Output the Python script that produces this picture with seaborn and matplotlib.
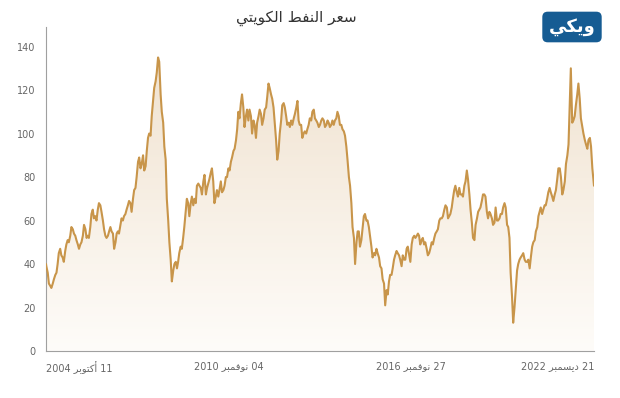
import matplotlib
matplotlib.use("Agg")
import matplotlib.pyplot as plt
import matplotlib.dates as mdates
import numpy as np
import pandas as pd
import seaborn as sns

# Kuwaiti oil price, USD per barrel (1st and 15th of each month)
start_date = "2004-10-11"
end_date = "2022-12-21"
start_price = 40
end_price = 76

p2004 = [39, 36, 31, 30, 29]
p2005 = [31, 33, 35, 36, 40, 45, 47, 44, 43, 41, 46, 49, 51, 50, 53, 57, 56, 54, 53, 51, 49, 47, 49, 50]
p2006 = [53, 58, 56, 52, 53, 52, 57, 63, 65, 61, 62, 60, 65, 68, 67, 64, 60, 56, 53, 52, 53, 55, 57, 55]
p2007 = [54, 47, 50, 54, 55, 54, 58, 61, 60, 62, 63, 65, 67, 69, 68, 64, 70, 74, 75, 80, 87, 89, 84, 86]
p2008 = [90, 83, 85, 92, 98, 100, 99, 108, 115, 121, 124, 128, 135, 133, 118, 110, 105, 94, 88, 70, 60, 50, 42, 32]
p2009 = [37, 40, 41, 38, 41, 45, 48, 47, 52, 57, 64, 70, 68, 62, 68, 71, 67, 70, 68, 76, 77, 76, 75, 72]
p2010 = [78, 81, 72, 75, 77, 79, 82, 84, 78, 68, 71, 74, 71, 74, 78, 73, 74, 76, 80, 80, 84, 83, 87, 89]
p2011 = [92, 93, 97, 102, 110, 107, 114, 118, 112, 103, 108, 111, 106, 111, 108, 100, 106, 104, 98, 105, 108, 111, 109, 104]
p2012 = [107, 111, 112, 117, 123, 121, 118, 116, 112, 105, 97, 88, 92, 100, 106, 113, 114, 112, 108, 104, 105, 103, 106, 104]
p2013 = [107, 109, 112, 115, 106, 104, 104, 98, 100, 101, 100, 102, 104, 107, 106, 110, 111, 107, 106, 105, 103, 104, 106, 107]
p2014 = [106, 103, 104, 106, 105, 103, 104, 106, 104, 106, 107, 110, 108, 104, 104, 102, 101, 99, 94, 88, 80, 76, 68, 57]
p2015 = [52, 40, 50, 55, 55, 48, 51, 56, 62, 63, 60, 60, 57, 53, 48, 43, 45, 44, 47, 45, 43, 39, 38, 33]
p2016 = [31, 21, 28, 26, 32, 35, 35, 38, 42, 44, 46, 45, 44, 42, 39, 44, 42, 42, 47, 48, 44, 41, 49, 52]
p2017 = [53, 52, 53, 54, 53, 49, 51, 52, 49, 50, 47, 44, 45, 47, 50, 49, 52, 54, 55, 56, 60, 61, 61, 62]
p2018 = [65, 67, 66, 61, 62, 63, 66, 70, 74, 76, 73, 71, 75, 72, 72, 71, 76, 78, 83, 79, 72, 65, 59, 52]
p2019 = [51, 58, 61, 64, 65, 66, 69, 72, 72, 71, 64, 61, 64, 63, 61, 58, 59, 66, 60, 60, 61, 63, 63, 66]
p2020 = [68, 66, 58, 57, 52, 36, 25, 13, 20, 28, 37, 40, 42, 43, 44, 45, 42, 41, 41, 42, 38, 43, 48, 50]
p2021 = [51, 55, 57, 62, 64, 66, 63, 65, 67, 67, 70, 73, 75, 73, 71, 69, 72, 74, 79, 84, 84, 80, 72, 74]
p2022 = [78, 86, 90, 95, 112, 130, 105, 106, 108, 113, 118, 123, 116, 107, 103, 100, 97, 95, 93, 97, 98, 94, 84, 78]

tick_dates = ["2004-10-11", "2010-11-04", "2016-11-27", "2022-12-21"]
y_ticks = [0, 20, 40, 60, 80, 100, 120, 140]

# Arabic written in presentation forms, in visual order (no shaping engine in matplotlib)
title = "\ufef2\ufe98\ufef3\ufeee\ufedc\ufedf\ufe8d \ufec2\ufed4\ufee8\ufedf\ufe8d \ufeae\ufecc\ufeb3"  # سعر النفط الكويتي
oct_ar = "\ufeae\ufe91\ufeee\ufe98\ufedb\ufe83"   # أكتوبر
nov_ar = "\ufeae\ufe92\ufee4\ufed3\ufeee\ufee7"   # نوفمبر
dec_ar = "\ufeae\ufe92\ufee4\ufeb4\ufef3\ufea9"   # ديسمبر
tick_labels = [f"2004 {oct_ar} 11", f"2010 {nov_ar} 04", f"2016 {nov_ar} 27", f"2022 {dec_ar} 21"]
logo = "\ufef2\ufedc\ufef3\ufeed"  # ويكي

yearly = [p2004, p2005, p2006, p2007, p2008, p2009, p2010, p2011, p2012, p2013,
          p2014, p2015, p2016, p2017, p2018, p2019, p2020, p2021, p2022]
prices = [start_price] + sum(yearly, []) + [end_price]
mid_dates = list(pd.date_range("2004-10-15", "2022-12-15", freq="SMS"))
dates = [pd.Timestamp(start_date)] + mid_dates + [pd.Timestamp(end_date)]
df = pd.DataFrame({"date": dates, "price": prices})

sns.set_style("white")
plt.rcParams["font.family"] = ["DejaVu Sans"]

fig = plt.figure(figsize=(6.2, 3.98), dpi=100)
ax = fig.add_axes([46 / 620, 1 - 351 / 398, 548 / 620, 324 / 398])

line_color = "#C8954A"
sns.lineplot(data=df, x="date", y="price", color=line_color, linewidth=1.5, ax=ax, zorder=3)

# vertical gradient under the line
ymax = 149
x0, x1 = mdates.date2num(df["date"].iloc[0]), mdates.date2num(df["date"].iloc[-1])
top_c = np.array([239, 224, 204]) / 255
bot_c = np.array([254, 252, 249]) / 255
t = np.linspace(0, 1, 256)[:, None]
grad = (top_c * (1 - t) + bot_c * t)[:, None, :]
im = ax.imshow(grad, extent=[x0, x1, 0, ymax], aspect="auto", origin="upper", zorder=1)
poly = ax.fill_between(df["date"], df["price"], 0, color="none", lw=0)
im.set_clip_path(poly.get_paths()[0], transform=ax.transData)

ax.set_xlim(x0, x1)
ax.set_ylim(0, ymax)
ax.set_yticks(y_ticks)
ax.set_xticks([mdates.date2num(pd.Timestamp(d)) for d in tick_dates])
ax.set_xticklabels(tick_labels)
for lab, ha in zip(ax.get_xticklabels(), ["left", "center", "center", "right"]):
    lab.set_horizontalalignment(ha)
ax.set_xlabel("")
ax.set_ylabel("")

for side in ["top", "right"]:
    ax.spines[side].set_visible(False)
for side in ["left", "bottom"]:
    ax.spines[side].set_color("#a0a0a0")
    ax.spines[side].set_linewidth(0.8)
ax.tick_params(axis="both", colors="#a0a0a0", labelcolor="#666666", labelsize=7, length=4, width=0.8)
ax.tick_params(axis="x", pad=3)
ax.grid(False)

fig.text(296 / 620, 1 - 18 / 398, title, ha="center", va="center", fontsize=11, color="#333333")
fig.text(572 / 620, 1 - 27 / 398, logo, ha="center", va="center", fontsize=13, fontweight="bold",
         color="white", bbox=dict(boxstyle="round,pad=0.35,rounding_size=0.3", fc="#165C93", ec="none"))

fig.savefig("out.png", dpi=100)
